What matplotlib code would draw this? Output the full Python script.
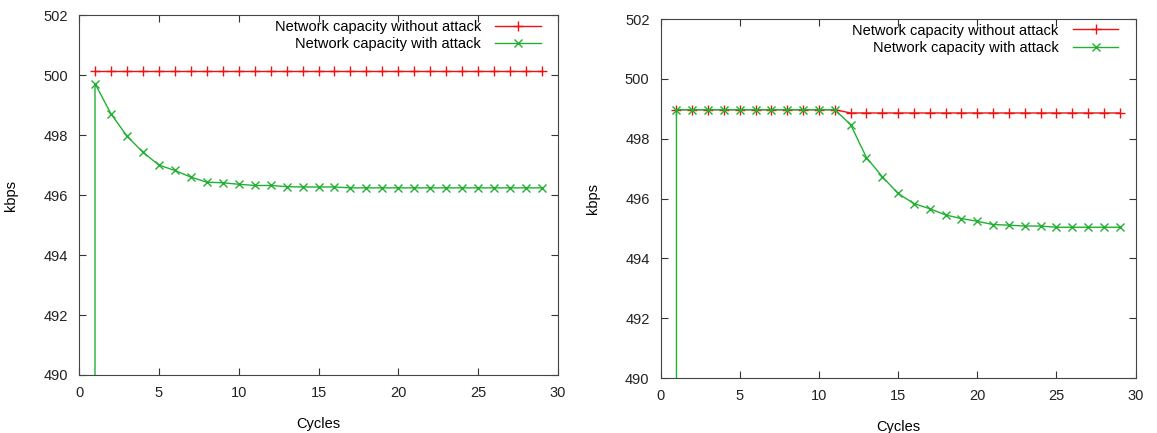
import numpy as np
import matplotlib
matplotlib.use("Agg")
import matplotlib.pyplot as plt

plt.rcParams['font.family'] = ['Liberation Sans', 'DejaVu Sans']

cycles = list(range(1, 30))

# left panel
left_no_attack = [500.15] * 29
left_attack_x = [1] + cycles
left_attack = [0.0, 499.72, 498.71, 497.97, 497.43, 497.00, 496.82, 496.60, 496.43,
               496.41, 496.36, 496.32, 496.32, 496.28, 496.27, 496.27, 496.27,
               496.24, 496.24, 496.24, 496.24, 496.24, 496.24, 496.24, 496.24,
               496.24, 496.24, 496.24, 496.24, 496.24]

# right panel
right_no_attack = [498.97] * 11 + [498.86] * 18
right_attack_x = [1] + cycles
right_attack = [0.0] + [498.97] * 11 + [498.47, 497.37, 496.73, 496.17, 495.83,
                495.66, 495.45, 495.33, 495.24, 495.13, 495.11, 495.08, 495.08,
                495.04, 495.04, 495.04, 495.04, 495.04]

label_red = "Network capacity without attack"
label_green = "Network capacity with attack"

red = '#ee1111'
green = '#22b033'

fig = plt.figure(figsize=(11.57, 4.33), dpi=100)
ax1 = fig.add_axes([0.0683, 0.134, 0.414, 0.831])
ax2 = fig.add_axes([0.571, 0.127, 0.4105, 0.829])

panels = [(ax1, left_no_attack, left_attack_x, left_attack),
          (ax2, right_no_attack, right_attack_x, right_attack)]

for ax, red_y, gx, green_y in panels:
    ax.plot(cycles, red_y, color=red, lw=1, marker='+', ms=7, mew=1, label=label_red)
    ax.plot(gx, green_y, color=green, lw=1, marker='x', ms=5.5, mew=1, label=label_green)
    ax.set_xlim(0, 30)
    ax.set_ylim(490, 502)
    ax.set_xticks(np.arange(0, 31, 5))
    ax.set_yticks(np.arange(490, 503, 2))
    ax.tick_params(direction='in', top=True, right=True, labelsize=10.5,
                   length=5, color='#333333', labelcolor='#222222', pad=8)
    for s in ax.spines.values():
        s.set_color('#444444')
    ax.set_xlabel("Cycles", fontsize=10.5, labelpad=12)
    ax.set_ylabel("kbps", fontsize=10.5, labelpad=18)
    ax.legend(loc='upper right', bbox_to_anchor=(0.985, 1.016), frameon=False,
              markerfirst=False, fontsize=10.5, handlelength=3.1,
              handletextpad=1.0, labelspacing=0.25, borderaxespad=0.3)

fig.savefig("out.png", dpi=100)
